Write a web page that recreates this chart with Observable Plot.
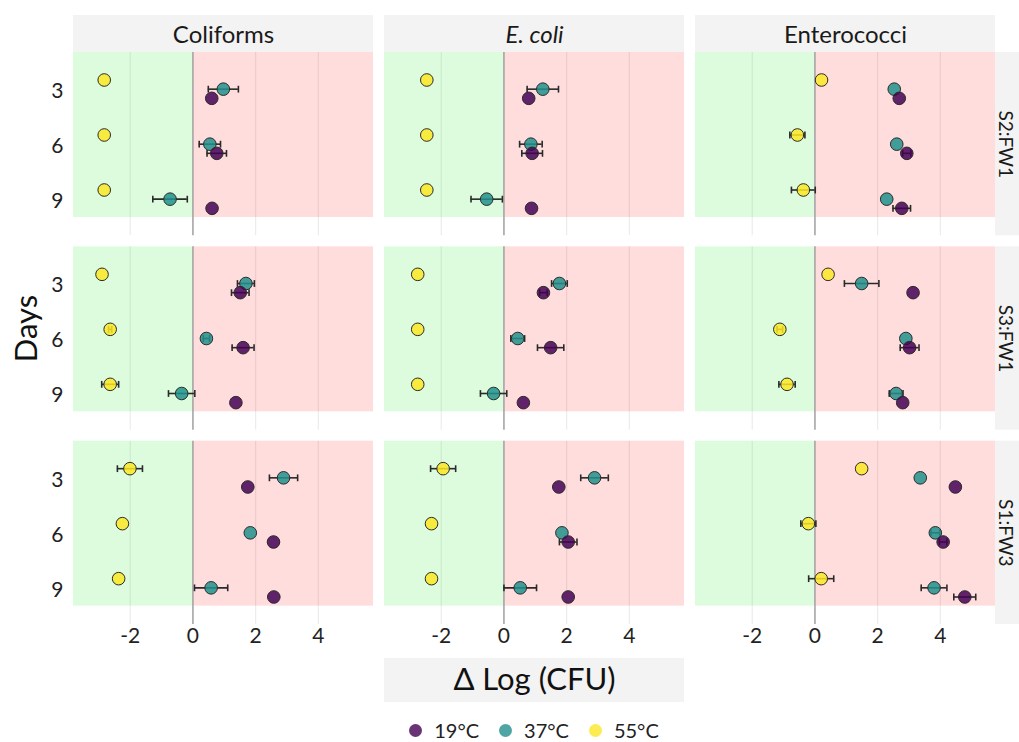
<!DOCTYPE html>
<html>
<head>
<meta charset="utf-8">
<script src="https://cdn.jsdelivr.net/npm/d3@7"></script>
<script src="https://cdn.jsdelivr.net/npm/@observablehq/plot@0.6"></script>
<style>
  body { margin: 0; background: #fff; font-family: Lato, sans-serif; }
  #wrap { position: relative; width: 1019px; height: 742px; }
  #legend { position: absolute; left: 73px; width: 922px; top: 718px; height: 24px;
            display: flex; justify-content: center; align-items: center; line-height: 1;
            font-family: Lato, sans-serif; font-size: 20px; color: #222; }
  #legend .item { display: flex; align-items: center; margin: 0 10px; }
  #legend .sw { width: 13px; height: 13px; border-radius: 50%; margin-right: 12px; opacity: 0.8; }
</style>
</head>
<body>
<div id="wrap"></div>
<script>
// ---------- data ----------
const organisms = ["Coliforms", "E. coli", "Enterococci"];
const sites = ["S2:FW1", "S3:FW1", "S1:FW3"];
const days = [3, 6, 9];
const temps = ["19°C", "37°C", "55°C"];
const tempColors = ["#440154", "#21908c", "#fde725"];

// values ordered site -> organism -> day
const mean19 = [
  0.60, 0.76, 0.61,   0.79, 0.90, 0.88,   2.69, 2.93, 2.77,
  1.51, 1.60, 1.37,   1.26, 1.49, 0.62,   3.13, 3.02, 2.80,
  1.75, 2.57, 2.58,   1.75, 2.05, 2.05,   4.48, 4.09, 4.78
];
const se19 = [
  0, 0.31, 0,         0, 0.33, 0,         0, 0.13, 0.28,
  0.28, 0.35, 0,      0.12, 0.42, 0,      0, 0.30, 0,
  0, 0, 0,            0, 0.28, 0,         0, 0.12, 0.35
];
const mean37 = [
  0.97, 0.54, -0.73,  1.24, 0.86, -0.55,  2.53, 2.61, 2.29,
  1.69, 0.43, -0.36,  1.77, 0.44, -0.33,  1.49, 2.90, 2.59,
  2.89, 1.83, 0.58,   2.89, 1.85, 0.52,   3.36, 3.84, 3.80
];
const se37 = [
  0.48, 0.34, 0.55,   0.50, 0.36, 0.50,   0, 0, 0,
  0.27, 0.10, 0.42,   0.25, 0.22, 0.42,   0.55, 0, 0.22,
  0.45, 0, 0.53,      0.44, 0, 0.52,      0, 0.14, 0.41
];
const mean55 = [
  -2.83, -2.83, -2.83, -2.46, -2.46, -2.46,  0.21, -0.56, -0.37,
  -2.90, -2.64, -2.64, -2.75, -2.75, -2.75,  0.42, -1.12, -0.89,
  -2.01, -2.25, -2.37, -1.94, -2.31, -2.31,  1.49, -0.21, 0.20
];
const se55 = [
  0, 0, 0,            0, 0, 0,            0, 0.24, 0.38,
  0, 0.05, 0.27,      0, 0, 0,            0, 0.09, 0.26,
  0.40, 0, 0,         0.40, 0, 0,         0, 0.24, 0.40
];
const xTicks = [-2, 0, 2, 4];

// ---------- build table ----------
const dodge = {"19°C": 0.5, "37°C": 0, "55°C": -0.5};
const series = [[temps[0], mean19, se19], [temps[1], mean37, se37], [temps[2], mean55, se55]];
const rows = [];
for (const [temp, means, ses] of series) {
  let i = 0;
  for (const site of sites) for (const org of organisms) for (const day of days) {
    rows.push({site, org, day, temp, mean: means[i], se: ses[i], yy: day + dodge[temp]});
    i++;
  }
}
// draw 55°C first so purple sits on top
rows.sort((a, b) => temps.indexOf(b.temp) - temps.indexOf(a.temp));
const errRows = rows.filter(d => d.se > 0);

const xDomain = [-3.81, 5.76];
const zones = [
  {x1: xDomain[0], x2: 0, fill: "#00e000"},
  {x1: 0, x2: xDomain[1], fill: "#ff0000"}
];

const capSymbol = {
  draw(ctx, size) { const h = Math.sqrt(size / Math.PI); ctx.moveTo(0, -h); ctx.lineTo(0, h); }
};

const W = 1019, H = 705;
const chart = Plot.plot({
  width: W, height: H,
  marginTop: 52, marginLeft: 73, marginRight: 24, marginBottom: H - 624,
  style: {fontFamily: "Lato, sans-serif", color: "#222", background: "#fff"},
  fx: {domain: organisms, axis: null, paddingInner: 11 / 311, paddingOuter: 0, round: false},
  fy: {domain: sites, axis: null, paddingInner: 11 / 194.3, paddingOuter: 0, round: false},
  x: {domain: xDomain},
  y: {domain: [1, 11], reverse: true},
  color: {domain: temps, range: tempColors},
  marks: [
    Plot.gridX({ticks: [-2, 2, 4], stroke: "#000", strokeOpacity: 0.08, strokeWidth: 1.2}),
    Plot.rect(zones, {x1: "x1", x2: "x2", y1: 1, y2: 10, fill: "fill", fillOpacity: 0.135}),
    Plot.ruleX([0], {stroke: "#a6a6a6", strokeWidth: 1.6}),
    Plot.axisX({ticks: xTicks, tickSize: 0, tickPadding: 4, fontSize: 21, label: null,
                tickFormat: d => String(d)}),
    Plot.axisY({ticks: days, tickSize: 0, tickPadding: 10, fontSize: 21, label: null, dy: 2}),
    // error bars
    Plot.ruleY(errRows, {fx: "org", fy: "site", y: "yy", x1: d => d.mean - d.se, x2: d => d.mean + d.se,
                         stroke: "#2a2a2a", strokeWidth: 1.6}),
    Plot.dot(errRows, {fx: "org", fy: "site", y: "yy", x: d => d.mean - d.se, symbol: capSymbol, r: 3.4,
                       stroke: "#2a2a2a", strokeWidth: 1.6, fill: "none"}),
    Plot.dot(errRows, {fx: "org", fy: "site", y: "yy", x: d => d.mean + d.se, symbol: capSymbol, r: 3.4,
                       stroke: "#2a2a2a", strokeWidth: 1.6, fill: "none"}),
    // points
    Plot.dot(rows, {fx: "org", fy: "site", x: "mean", y: "yy", fill: "temp", fillOpacity: 0.85,
                    r: 6.3, stroke: "#2b2b2b", strokeWidth: 1}),
    // strip labels (top)
    Plot.text(organisms.filter(o => o !== "E. coli"), {fx: d => d, fy: () => sites[0], text: d => d,
      frameAnchor: "top", lineAnchor: "middle", textAnchor: "middle", dy: -17, fontSize: 24, fill: "#1a1a1a"}),
    Plot.text(["E. coli"], {fx: d => d, fy: () => sites[0], text: d => d,
      frameAnchor: "top", lineAnchor: "middle", textAnchor: "middle", dy: -17, fontSize: 24,
      fontStyle: "italic", fill: "#1a1a1a"}),
    // strip labels (right)
    Plot.text(sites, {fy: d => d, fx: () => organisms[2], text: d => d,
      frameAnchor: "right", lineAnchor: "middle", textAnchor: "middle", dx: 10, rotate: 90,
      fontSize: 19, fill: "#1a1a1a"}),
    // y title
    Plot.text(["Days"], {fy: () => sites[1], fx: () => organisms[0], text: d => d,
      frameAnchor: "left", lineAnchor: "middle", textAnchor: "middle", dx: -46, dy: -10, rotate: -90,
      fontSize: 31, fill: "#111"}),
    // x title
    Plot.text(["Δ Log (CFU)"], {fy: () => sites[2], fx: () => organisms[1], text: d => d,
      frameAnchor: "bottom", lineAnchor: "middle", textAnchor: "middle", dy: 56, fontSize: 31, fill: "#111"})
  ]
});

// strip / title backgrounds placed with the facet scales
const fx = chart.scale("fx"), fy = chart.scale("fy");
const bg = d3.select(chart).insert("g", ":first-child");
for (const o of organisms) {
  bg.append("rect").attr("x", fx.apply(o)).attr("y", 15)
    .attr("width", fx.bandwidth).attr("height", fy.apply(sites[0]) - 15).attr("fill", "#f3f3f3");
}
for (const s of sites) {
  bg.append("rect").attr("x", fx.apply(organisms[2]) + fx.bandwidth).attr("y", fy.apply(s))
    .attr("width", 40).attr("height", fy.bandwidth).attr("fill", "#f3f3f3");
}
bg.append("rect").attr("x", fx.apply(organisms[1])).attr("y", 658)
  .attr("width", fx.bandwidth).attr("height", 44).attr("fill", "#f3f3f3");

const wrap = document.getElementById("wrap");
wrap.appendChild(chart);

// legend
const legend = document.createElement("div");
legend.id = "legend";
temps.forEach((t, i) => {
  const item = document.createElement("span");
  item.className = "item";
  const sw = document.createElement("span");
  sw.className = "sw";
  sw.style.background = tempColors[i];
  const lab = document.createElement("span");
  lab.textContent = t;
  item.appendChild(sw); item.appendChild(lab);
  legend.appendChild(item);
});
wrap.appendChild(legend);
</script>
</body>
</html>
